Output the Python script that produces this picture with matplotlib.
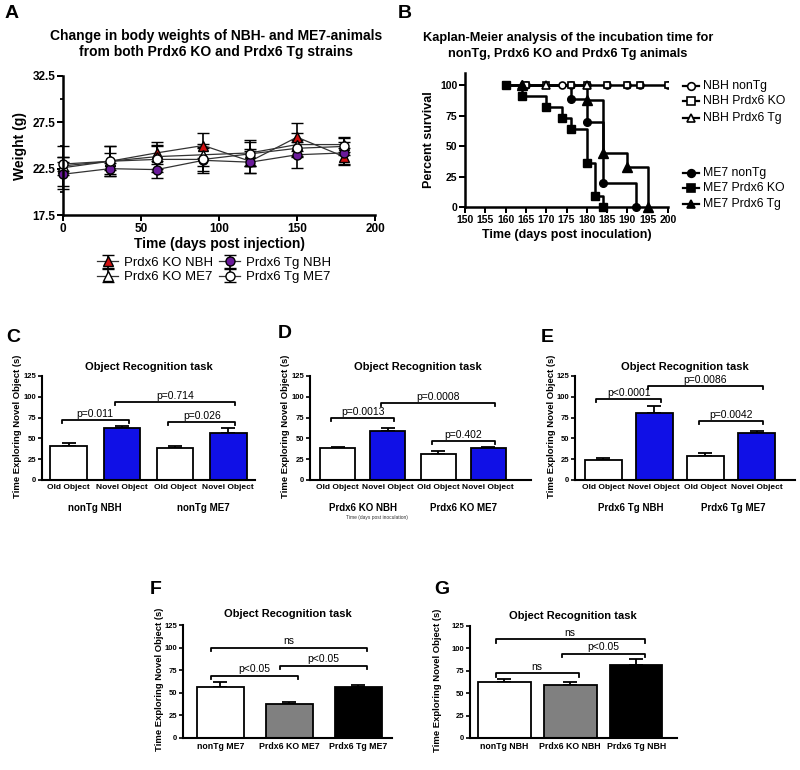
import numpy as np
import matplotlib
matplotlib.use("Agg")
import matplotlib.pyplot as plt
from matplotlib.ticker import MultipleLocator

plt.rcParams['font.family'] = ['Liberation Sans', 'DejaVu Sans']

W, H = 800, 770

# ---- panel A: body weights ----
days = [0, 30, 60, 90, 120, 150, 180]
ko_nbh = [22.6, 23.3, 24.2, 25.0, 23.3, 25.9, 23.8]
ko_nbh_err = [2.3, 1.6, 1.2, 1.3, 1.3, 1.5, 0.9]
ko_me7 = [22.8, 23.3, 23.8, 24.0, 24.2, 25.1, 25.1]
ko_me7_err = [1.0, 0.9, 1.3, 1.2, 1.4, 1.2, 0.8]
tg_nbh = [21.9, 22.5, 22.4, 23.4, 23.2, 24.0, 24.2]
tg_nbh_err = [1.3, 0.6, 0.9, 1.4, 1.2, 1.4, 1.2]
tg_me7 = [23.0, 23.3, 23.5, 23.5, 24.1, 24.7, 24.9]
tg_me7_err = [0.8, 1.6, 1.4, 1.2, 1.3, 0.9, 0.9]

# ---- panel B: Kaplan-Meier ----
nbh_marks_circle = [160, 165, 174, 176, 180, 185, 190, 193, 200]
nbh_marks_square = [160, 165, 170, 176, 180, 185, 190, 193, 200]
nbh_marks_tri = [164, 170, 180]
me7_nontg_t = [160, 176, 180, 184, 192]
me7_nontg_s = [100, 89, 70, 20, 0]
me7_ko_t = [160, 164, 170, 174, 176, 180, 182, 184]
me7_ko_s = [100, 91, 82, 73, 64, 36, 9, 0]
me7_tg_t = [164, 180, 184, 190, 195]
me7_tg_s = [100, 88, 44, 33, 0]

# ---- panels C-E: object recognition ----
obj_labels = ['Old Object', 'Novel Object', 'Old Object', 'Novel Object']
c_vals = [41, 62, 38, 56]
c_err = [3, 3.5, 3, 6]
d_vals = [39, 59, 31, 38]
d_err = [1, 3, 4, 2]
e_vals = [24, 81, 29, 56]
e_err = [2, 8, 3, 2.5]

# ---- panels F-G ----
f_labels = ['nonTg ME7', 'Prdx6 KO ME7', 'Prdx6 Tg ME7']
f_vals = [56, 38, 56]
f_err = [6, 2, 3]
g_labels = ['nonTg NBH', 'Prdx6 KO NBH', 'Prdx6 Tg NBH']
g_vals = [62, 59, 81]
g_err = [3.5, 3, 7]

fig = plt.figure(figsize=(W / 100, H / 100), dpi=100)


def px_axes(x0, y0, x1, y1):
    return fig.add_axes([x0 / W, 1 - y1 / H, (x1 - x0) / W, (y1 - y0) / H])


def ftext(x, y, s, **kw):
    fig.text(x / W, 1 - y / H, s, **kw)


def prism_style(ax, lw=1.6, labsize=8, ticklen=4):
    ax.spines['top'].set_visible(False)
    ax.spines['right'].set_visible(False)
    ax.spines['left'].set_linewidth(lw)
    ax.spines['bottom'].set_linewidth(lw)
    ax.tick_params(width=lw * 0.8, length=ticklen, labelsize=labsize, pad=1.5)
    ax.tick_params(which='minor', width=lw * 0.7, length=2.5)
    for t in ax.get_xticklabels() + ax.get_yticklabels():
        t.set_fontweight('bold')


# panel A
ax = px_axes(63, 76, 375, 215)
series = [
    (ko_nbh, ko_nbh_err, '^', '#d01010', 'Prdx6 KO NBH'),
    (ko_me7, ko_me7_err, '^', 'white', 'Prdx6 KO ME7'),
    (tg_nbh, tg_nbh_err, 'o', '#6a1b9a', 'Prdx6 Tg NBH'),
    (tg_me7, tg_me7_err, 'o', 'white', 'Prdx6 Tg ME7'),
]
handles = []
for vals, err, mk, fc, lab in series:
    h = ax.errorbar(days, vals, yerr=err, fmt='-', color='#333333', lw=0.9,
                    marker=mk, ms=6.5, mfc=fc, mec='black', mew=1.0,
                    ecolor='black', elinewidth=1.2, capsize=4, capthick=1.2,
                    label=lab, clip_on=False)
    handles.append(h)
ax.set_xlim(0, 200)
ax.set_ylim(17.5, 32.5)
ax.set_xticks([0, 50, 100, 150, 200])
ax.set_yticks([17.5, 22.5, 27.5, 32.5])
ax.yaxis.set_minor_locator(MultipleLocator(2.5))
prism_style(ax, lw=1.8, labsize=8.5)
ax.set_xlabel('Time (days post injection)', fontsize=10, fontweight='bold', labelpad=2)
ax.set_ylabel('Weight (g)', fontsize=10, fontweight='bold', labelpad=4)
ftext(216, 36, 'Change in body weights of NBH- and ME7-animals', ha='center', va='center',
      fontsize=10, fontweight='bold')
ftext(216, 52, 'from both Prdx6 KO and Prdx6 Tg strains', ha='center', va='center',
      fontsize=10, fontweight='bold')
fig.legend([handles[0], handles[1], handles[2], handles[3]],
           ['Prdx6 KO NBH', 'Prdx6 KO ME7', 'Prdx6 Tg NBH', 'Prdx6 Tg ME7'],
           ncol=2, loc='center', bbox_to_anchor=(214 / W, 1 - 270 / H), frameon=False,
           fontsize=9.5, handlelength=1.6, handletextpad=0.4, columnspacing=0.5,
           labelspacing=0.15)
ftext(5, 14, 'A', fontsize=14, fontweight='bold', va='center')

# panel B
ax = px_axes(465, 73, 668, 207)
ax.step(me7_nontg_t, me7_nontg_s, where='post', color='black', lw=1.8)
ax.step(me7_ko_t, me7_ko_s, where='post', color='black', lw=1.8)
ax.step(me7_tg_t, me7_tg_s, where='post', color='black', lw=1.8)
ax.plot([160, 200], [100, 100], color='black', lw=1.8)
ax.plot(nbh_marks_circle, [100] * len(nbh_marks_circle), 'o', ms=5, mfc='white', mec='black', mew=1.2)
ax.plot(nbh_marks_square, [100] * len(nbh_marks_square), 's', ms=5, mfc='white', mec='black', mew=1.2)
ax.plot(nbh_marks_tri, [100] * len(nbh_marks_tri), '^', ms=6, mfc='white', mec='black', mew=1.2)
ax.plot(me7_nontg_t[1:], me7_nontg_s[1:], 'o', ms=5.5, color='black', clip_on=False)
ax.plot(me7_ko_t, me7_ko_s, 's', ms=6, color='black', clip_on=False)
ax.plot(me7_tg_t, me7_tg_s, '^', ms=7, color='black', clip_on=False)
ax.set_xlim(150, 200)
ax.set_ylim(0, 110)
ax.set_xticks(np.arange(150, 201, 5))
ax.set_yticks([0, 25, 50, 75, 100])
prism_style(ax, lw=1.8, labsize=7.5)
ax.set_xlabel('Time (days post inoculation)', fontsize=9, fontweight='bold', labelpad=3)
ax.set_ylabel('Percent survival', fontsize=9, fontweight='bold', labelpad=4)
ftext(568, 38, 'Kaplan-Meier analysis of the incubation time for', ha='center', va='center',
      fontsize=9.2, fontweight='bold')
ftext(568, 54, 'nonTg, Prdx6 KO and Prdx6 Tg animals', ha='center', va='center',
      fontsize=9.2, fontweight='bold')
leg_b = [
    (86, 'o', 'white', 'NBH nonTg'),
    (101, 's', 'white', 'NBH Prdx6 KO'),
    (118, '^', 'white', 'NBH Prdx6 Tg'),
    (173, 'o', 'black', 'ME7 nonTg'),
    (188, 's', 'black', 'ME7 Prdx6 KO'),
    (204, '^', 'black', 'ME7 Prdx6 Tg'),
]
lax = fig.add_axes([0, 0, 1, 1])
lax.set_xlim(0, W)
lax.set_ylim(H, 0)
lax.axis('off')
for yy, mk, fc, lab in leg_b:
    lax.plot([683, 699], [yy, yy], color='black', lw=1.6)
    lax.plot([691], [yy], mk, ms=5.5, mfc=fc, mec='black', mew=1.2)
    lax.text(703, yy, lab, fontsize=8.8, va='center')
ftext(398, 14, 'B', fontsize=14, fontweight='bold', va='center')


def bracket(ax, i, j, y, label, d=3.5, off=0.13, fs=7.5):
    xs = [i - off, i - off, j + off, j + off]
    ys = [y - d, y, y, y - d]
    ax.plot(xs, ys, color='black', lw=1.3, clip_on=False)
    ax.text((i + j) / 2, y + 1.5, label, ha='center', va='bottom', fontsize=fs, clip_on=False)


def bar_panel(box, vals, err, colors, labels, xlim, width, brackets, title, title_xy,
              ylab_x, letter_xy, letter, lab_fs=6):
    ax = px_axes(*box)
    x = np.arange(len(vals))
    ax.bar(x, vals, width=width, color=colors, edgecolor='black', linewidth=1.3, zorder=2)
    ax.errorbar(x, vals, yerr=[np.zeros(len(err)), err], fmt='none', ecolor='black',
                elinewidth=1.3, capsize=5, capthick=1.3, zorder=1)
    ax.set_xlim(*xlim)
    ax.set_ylim(0, 125)
    ax.set_yticks([0, 25, 50, 75, 100, 125])
    ax.set_xticks(x)
    ax.set_xticklabels(labels)
    prism_style(ax, lw=1.5, labsize=5.5, ticklen=3)
    ax.tick_params(axis='y', pad=1)
    ax.tick_params(axis='x', length=0, labelsize=lab_fs, pad=3)
    for t in ax.get_xticklabels():
        t.set_fontweight('bold')
    for b in brackets:
        bracket(ax, *b)
    ftext(title_xy[0], title_xy[1], title, ha='center', va='center', fontsize=8, fontweight='bold')
    ftext(ylab_x, (box[1] + box[3]) / 2 - 2, 'Time Exploring Novel Object (s)', rotation=90,
          ha='center', va='center', fontsize=6.8, fontweight='bold')
    ftext(letter_xy[0], letter_xy[1], letter, fontsize=14, fontweight='bold', va='center')
    return ax


blue = '#1010e6'
cols4 = ['white', blue, 'white', blue]

bar_panel((42, 376, 255, 480), c_vals, c_err, cols4, obj_labels, (-0.5, 3.5), 0.69,
          [(0, 1, 72, 'p=0.011'), (1, 3, 94, 'p=0.714'), (2, 3, 70, 'p=0.026')],
          'Object Recognition task', (149, 367), 18, (6, 337), 'C')
ftext(95, 508, 'nonTg NBH', ha='center', va='center', fontsize=7, fontweight='bold')
ftext(203, 508, 'nonTg ME7', ha='center', va='center', fontsize=7, fontweight='bold')

bar_panel((310, 376, 531, 480), d_vals, d_err, cols4, obj_labels, (-0.55, 3.85), 0.7,
          [(0, 1, 74, 'p=0.0013'), (1, 3, 92, 'p=0.0008'), (2, 3, 47, 'p=0.402')],
          'Object Recognition task', (418, 367), 286, (278, 334), 'D')
ftext(363, 508, 'Prdx6 KO NBH', ha='center', va='center', fontsize=7, fontweight='bold')
ftext(463, 508, 'Prdx6 KO ME7', ha='center', va='center', fontsize=7, fontweight='bold')
ftext(377, 518, 'Time (days post inoculation)', ha='center', va='center', fontsize=3.5,
      color='#333333')

bar_panel((575, 376, 795, 480), e_vals, e_err, cols4, obj_labels, (-0.55, 3.75), 0.72,
          [(0, 1, 97, 'p<0.0001'), (1, 3, 113, 'p=0.0086'), (2, 3, 71, 'p=0.0042')],
          'Object Recognition task', (685, 367), 552, (541, 337), 'E')
ftext(631, 508, 'Prdx6 Tg NBH', ha='center', va='center', fontsize=7, fontweight='bold')
ftext(733, 508, 'Prdx6 Tg ME7', ha='center', va='center', fontsize=7, fontweight='bold')

cols3 = ['white', '#808080', 'black']
bar_panel((183, 625, 392, 738), f_vals, f_err, cols3, f_labels, (-0.54, 2.49), 0.68,
          [(0, 2, 100, 'ns'), (0, 1, 69, 'p<0.05'), (1, 2, 80, 'p<0.05')],
          'Object Recognition task', (288, 614), 160, (150, 590), 'F', lab_fs=6.3)

bar_panel((470, 626, 677, 738), g_vals, g_err, cols3, g_labels, (-0.52, 2.62), 0.8,
          [(0, 2, 110, 'ns'), (1, 2, 94, 'p<0.05'), (0, 1, 72, 'ns')],
          'Object Recognition task', (573, 616), 437, (434, 589), 'G', lab_fs=6.3)

fig.savefig('out.png', dpi=100)
